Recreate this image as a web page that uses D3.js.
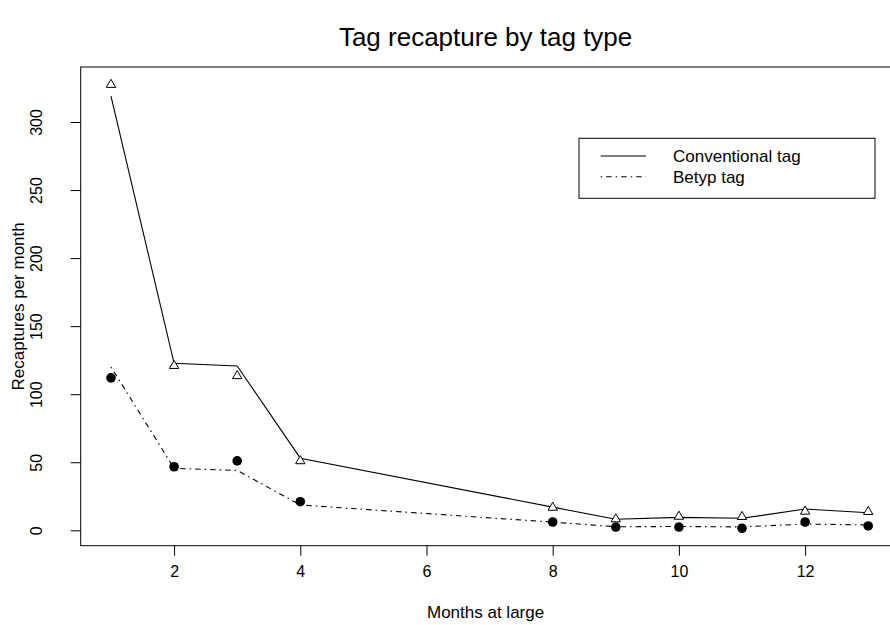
<!DOCTYPE html>
<html>
<head>
<meta charset="utf-8">
<script src="https://cdn.jsdelivr.net/npm/d3@7"></script>
<style>
  html, body { margin: 0; padding: 0; background: #fff; }
  svg { display: block; font-family: "Liberation Sans", Arial, Helvetica, sans-serif; }
</style>
</head>
<body>
<svg id="chart" width="890" height="625"></svg>
<script>
// ---- data ----
const months = [1, 2, 3, 4, 8, 9, 10, 11, 12, 13];
const conventionalObs = [328, 121.5, 114, 51.5, 17.3, 8.8, 10.7, 10.5, 14.4, 14.2];
const conventionalFit = [319, 122.7, 120.7, 53, 17, 8.1, 9.5, 8.8, 15.6, 12.9];
const betypObs = [112, 46.7, 51, 21, 6.1, 2.4, 2.4, 1.5, 6.1, 3.2];
const betypFit = [120, 45.5, 44, 18.6, 6, 2.6, 2.8, 2.5, 4.6, 3.9];
const xTicks = [2, 4, 6, 8, 10, 12];
const yTicks = [0, 50, 100, 150, 200, 250, 300];
const legendLabels = ["Conventional tag", "Betyp tag"];
const titleText = "Tag recapture by tag type";
const xLabel = "Months at large";
const yLabel = "Recaptures per month";

(function () {
// ---- layout ----
const svg = d3.select("#chart");
const pLeft = 80.7, pRight = 898.5, pTop = 67, pBottom = 545.7;
const x = d3.scaleLinear().domain([0.52, 13.48]).range([pLeft, pRight]);
const y = d3.scaleLinear().domain([0, 300]).range([530.3, 122]);
const fam = "Liberation Sans, Arial, sans-serif";
const tickFont = 16, labFont = 17;

const dotdash = "1.5,4,5.5,4";

// plot box
svg.append("rect")
  .attr("x", pLeft).attr("y", pTop)
  .attr("width", pRight - pLeft).attr("height", pBottom - pTop)
  .attr("fill", "none").attr("stroke", "#000").attr("stroke-width", 1);

// x axis
const xAxis = d3.axisBottom(x).tickValues(xTicks).tickSize(10).tickPadding(7).tickFormat(d3.format("d"));
const gx = svg.append("g").attr("transform", `translate(0,${pBottom})`).call(xAxis);
gx.attr("font-size", tickFont).attr("font-family", fam);
gx.select(".domain").remove();
gx.selectAll(".tick text").attr("fill", "#000").attr("dy", "0.9em");

// y axis
const yAxis = d3.axisLeft(y).tickValues(yTicks).tickSize(10).tickPadding(0).tickFormat(d3.format("d"));
const gy = svg.append("g").attr("transform", `translate(${pLeft},0)`).call(yAxis);
gy.attr("font-size", tickFont).attr("font-family", fam);
gy.select(".domain").remove();
gy.selectAll(".tick text")
  .attr("fill", "#000")
  .attr("x", 0).attr("dy", "0.35em")
  .attr("text-anchor", "middle")
  .attr("transform", "translate(-44,0) rotate(-90)");

// lines
const line = d3.line().x((d, i) => x(months[i])).y(d => y(d));
svg.append("path").datum(conventionalFit).attr("d", line)
  .attr("fill", "none").attr("stroke", "#000").attr("stroke-width", 1.1);
svg.append("path").datum(betypFit).attr("d", line)
  .attr("fill", "none").attr("stroke", "#000").attr("stroke-width", 1.1)
  .attr("stroke-dasharray", dotdash);

// triangles
const tri = d3.symbol().type(d3.symbolTriangle).size(38);
svg.append("g").selectAll("path").data(conventionalObs).join("path")
  .attr("d", tri)
  .attr("transform", (d, i) => `translate(${x(months[i])},${y(d) + 0.8})`)
  .attr("fill", "#fff").attr("stroke", "#000").attr("stroke-width", 1);

// filled circles
svg.append("g").selectAll("circle").data(betypObs).join("circle")
  .attr("cx", (d, i) => x(months[i])).attr("cy", d => y(d))
  .attr("r", 4.8).attr("fill", "#000");

// legend
const lg = svg.append("g");
lg.append("rect").attr("x", 579).attr("y", 138.3).attr("width", 296).attr("height", 60)
  .attr("fill", "#fff").attr("stroke", "#000").attr("stroke-width", 1);
const legY = [156, 176.7];
lg.append("line").attr("x1", 600.7).attr("x2", 646).attr("y1", legY[0]).attr("y2", legY[0])
  .attr("stroke", "#000").attr("stroke-width", 1.1);
lg.append("line").attr("x1", 600.7).attr("x2", 646).attr("y1", legY[1]).attr("y2", legY[1])
  .attr("stroke", "#000").attr("stroke-width", 1.1).attr("stroke-dasharray", dotdash);
lg.selectAll("text").data(legendLabels).join("text")
  .attr("x", 673).attr("y", (d, i) => legY[i]).attr("dy", "0.35em")
  .attr("font-size", labFont).attr("font-family", fam).attr("fill", "#000").text(d => d);

// title
svg.append("text").attr("x", (pLeft + pRight) / 2 - 4).attr("y", 46)
  .attr("text-anchor", "middle").attr("font-size", 26).attr("font-family", fam).attr("fill", "#000").text(titleText);

// axis labels
svg.append("text").attr("x", (pLeft + pRight) / 2 - 4).attr("y", 618)
  .attr("text-anchor", "middle").attr("font-size", labFont).attr("font-family", fam).attr("fill", "#000").text(xLabel);
svg.append("text").attr("transform", `translate(24,${(pTop + pBottom) / 2}) rotate(-90)`)
  .attr("text-anchor", "middle").attr("font-size", labFont).attr("font-family", fam).attr("fill", "#000").text(yLabel);
})();
</script>
</body>
</html>
